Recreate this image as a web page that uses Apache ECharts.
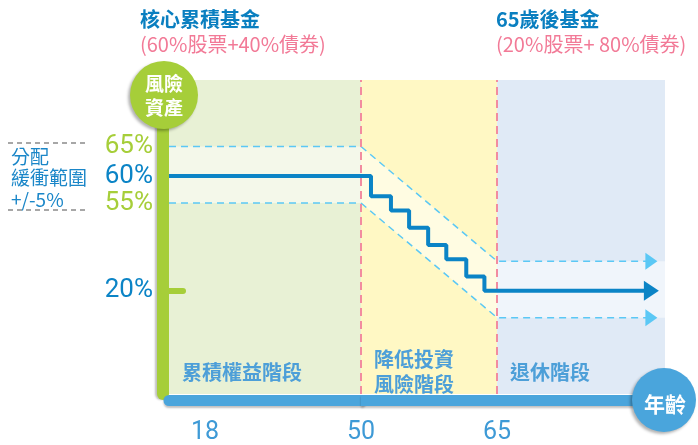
<!DOCTYPE html>
<html>
<head>
<meta charset="utf-8">
<script src="https://cdn.jsdelivr.net/npm/echarts@6/dist/echarts.min.js"></script>
<style>
  html, body { margin: 0; padding: 0; background: #fff; }
  #chart { width: 698px; height: 445px; }
</style>
</head>
<body>
<div id="chart"></div>
<script>
// ---- data ----
var ageTicks = [18, 50, 65];
var stageNames = ['累積權益階段', '降低投資\n風險階段', '退休階段'];
var pathAges = [18, 50, 51.1, 53.3, 55.3, 57.4, 59.4, 61.6, 63.6, 82];
var pathShare = [60, 60, 53, 48, 42, 36, 31, 25, 20, 20];
var bandAges = [18, 50, 65, 82];
var bandUpper = [65, 65, 25, 25];
var bandLower = [55, 55, 15, 15];
var mainTicks = [60, 20];
var upperTicks = [65];
var lowerTicks = [55];

// ---- look ----
var NUM_FONT = 'Roboto, "DejaVu Sans", sans-serif';
var CJK_FONT = '"Noto Sans CJK TC", "Noto Sans CJK SC", sans-serif';
var BLUE = '#0b84c6', GREEN = '#a6ce39', CYAN = '#5bc8f5', PINK = '#f28ca0';
var AXIS_BLUE = '#4aa5dc', STAGE_BLUE = '#4d9fd8', TITLE_BLUE = '#0a7fc0', TITLE_PINK = '#f27a97';
var yMin = -16, yMax = 93.5, upperShift = 5.3, lowerShift = 4.4;
var ageMax = 83.5;

var chart = echarts.init(document.getElementById('chart'));

function pick(xs, ys, lo, hi, arrow) {
  var out = [];
  for (var i = 0; i < xs.length; i++) {
    if (xs[i] >= lo && xs[i] <= hi) out.push([xs[i], ys[i]]);
  }
  if (arrow) {
    var last = out.pop();
    out.push({ value: last, symbol: 'triangle', symbolSize: arrow, symbolRotate: -90 });
  }
  return out;
}

// light strip between the two buffer lines
function bandFill(lo, hi) {
  return function (params, api) {
    var cs = params.coordSys;
    var up = [], dn = [];
    for (var i = 0; i < bandAges.length; i++) {
      if (bandAges[i] < lo || bandAges[i] > hi) continue;
      up.push(api.coord([bandAges[i], bandUpper[i] + upperShift]));
      dn.push(api.coord([bandAges[i], bandLower[i] - lowerShift]));
    }
    var right = cs.x + cs.width;
    if (up[up.length - 1][0] < right) {
      up.push([right, up[up.length - 1][1]]);
      dn.push([right, dn[dn.length - 1][1]]);
    }
    return {
      type: 'polygon',
      shape: { points: up.concat(dn.reverse()) },
      style: { fill: 'rgba(255,255,255,0.5)' }
    };
  };
}

function yAxisSet(grid, show) {
  var base = { gridIndex: grid, type: 'value', position: 'left', offset: 6, splitLine: { show: false } };
  return [
    Object.assign({}, base, {
      min: yMin, max: yMax, show: true, z: 6,
      axisLine: { show: show, onZero: false, lineStyle: { color: GREEN, width: 12, shadowColor: 'rgba(0,0,0,0.25)', shadowBlur: 2, shadowOffsetX: -2 } },
      axisTick: { show: show, inside: true, length: 20, customValues: [20], lineStyle: { color: GREEN, width: 6, cap: 'round' } },
      axisLabel: { show: show, customValues: mainTicks, margin: 10, color: BLUE, fontSize: 26, fontFamily: NUM_FONT, formatter: '{value}%' }
    }),
    Object.assign({}, base, {
      min: yMin - upperShift, max: yMax - upperShift, show: show,
      axisLine: { show: false, onZero: false }, axisTick: { show: false },
      axisLabel: { customValues: upperTicks, margin: 10, color: GREEN, fontSize: 26, fontFamily: NUM_FONT, formatter: '{value}%' }
    }),
    Object.assign({}, base, {
      min: yMin + lowerShift, max: yMax + lowerShift, show: show,
      axisLine: { show: false, onZero: false }, axisTick: { show: false },
      axisLabel: { customValues: lowerTicks, margin: 10, color: GREEN, fontSize: 26, fontFamily: NUM_FONT, formatter: '{value}%' }
    })
  ];
}

var stageLabel = {
  show: true, position: [13, 292], align: 'left', verticalAlign: 'middle',
  color: STAGE_BLUE, fontSize: 20, fontWeight: 'bold', fontFamily: CJK_FONT, lineHeight: 25
};
var barShadow = { color: AXIS_BLUE, width: 11, shadowColor: 'rgba(0,0,0,0.25)', shadowBlur: 2, shadowOffsetY: 2 };
var xLabel = { color: '#3e9ad6', fontSize: 25, fontFamily: NUM_FONT, margin: 20 };

function lineSeries(x, y, data, style, z) {
  return {
    type: 'line', xAxisIndex: x, yAxisIndex: y, data: data, z: z,
    symbol: 'none', showSymbol: true, silent: true, animation: false,
    lineStyle: style, itemStyle: { color: style.color }
  };
}

var option = {
  animation: false,
  title: [
    { text: '核心累積基金', subtext: '(60%股票+40%債券)', left: 140, top: 9, padding: 0, itemGap: 5,
      textStyle: { color: TITLE_BLUE, fontSize: 20, fontWeight: 'bold', fontFamily: CJK_FONT },
      subtextStyle: { color: TITLE_PINK, fontSize: 20, fontFamily: CJK_FONT } },
    { text: '65歲後基金', subtext: '(20%股票+ 80%債券)', left: 496, top: 9, padding: 0, itemGap: 5,
      textStyle: { color: TITLE_BLUE, fontSize: 20, fontWeight: 'bold', fontFamily: CJK_FONT },
      subtextStyle: { color: TITLE_PINK, fontSize: 20, fontFamily: CJK_FONT } }
  ],
  grid: [
    { left: 169, width: 192, top: 80, height: 318 },
    { left: 361, width: 304, top: 80, height: 318 }
  ],
  xAxis: [
    { gridIndex: 0, type: 'value', min: 18, max: 50, offset: 6, z: 7, splitLine: { show: false },
      axisLine: { onZero: false, lineStyle: Object.assign({ cap: 'round' }, barShadow) }, axisTick: { show: false },
      axisLabel: Object.assign({}, xLabel, { customValues: [ageTicks[0]], padding: [0, 0, 0, 72] }) },
    { gridIndex: 1, type: 'value', min: 50, max: ageMax, offset: 6, z: 8, splitLine: { show: false },
      axisLine: { onZero: false, lineStyle: Object.assign({ cap: 'butt' }, barShadow) }, axisTick: { show: false },
      axisLabel: Object.assign({}, xLabel, { customValues: ageTicks.slice(1) }) }
  ],
  yAxis: yAxisSet(0, true).concat(yAxisSet(1, false)),
  series: [
    // stage backgrounds
    { type: 'line', xAxisIndex: 0, yAxisIndex: 0, data: [], z: 1, silent: true,
      markArea: { silent: true, data: [[
        { xAxis: ageTicks[0], name: stageNames[0], itemStyle: { color: '#e8f1d5' }, label: stageLabel },
        { xAxis: ageTicks[1] }
      ]] } },
    { type: 'line', xAxisIndex: 1, yAxisIndex: 3, data: [], z: 1, silent: true,
      markArea: { silent: true, data: [
        [{ xAxis: ageTicks[1], name: stageNames[1], itemStyle: { color: '#fff8c4' }, label: stageLabel }, { xAxis: ageTicks[2] }],
        [{ xAxis: ageTicks[2], name: stageNames[2], itemStyle: { color: '#e0eaf6' }, label: stageLabel }, { xAxis: ageMax }]
      ] } },
    // buffer strip
    { type: 'custom', xAxisIndex: 0, yAxisIndex: 0, z: 2, silent: true, data: [[18, 60]], renderItem: bandFill(18, 50) },
    { type: 'custom', xAxisIndex: 1, yAxisIndex: 3, z: 2, silent: true, data: [[50, 60]], renderItem: bandFill(50, ageMax) },
    // stage boundaries
    { type: 'line', xAxisIndex: 1, yAxisIndex: 3, data: [], z: 3, silent: true,
      markLine: { silent: true, symbol: 'none', label: { show: false },
        lineStyle: { color: PINK, type: [8, 5], width: 2 },
        data: [{ xAxis: ageTicks[1] }, { xAxis: ageTicks[2] }] } },
    // buffer lines
    lineSeries(0, 1, pick(bandAges, bandUpper, 18, 50), { color: CYAN, width: 1.5, type: [7, 5] }, 4),
    lineSeries(0, 2, pick(bandAges, bandLower, 18, 50), { color: CYAN, width: 1.5, type: [7, 5] }, 4),
    lineSeries(1, 4, pick(bandAges, bandUpper, 50, ageMax, [17, 12]), { color: CYAN, width: 1.5, type: [7, 5] }, 4),
    lineSeries(1, 5, pick(bandAges, bandLower, 50, ageMax, [17, 12]), { color: CYAN, width: 1.5, type: [7, 5] }, 4),
    // glide path
    lineSeries(0, 0, pick(pathAges, pathShare, 18, 50), { color: BLUE, width: 4 }, 5),
    Object.assign(lineSeries(1, 3, pick(pathAges, pathShare, 50, ageMax, [20, 15]), { color: BLUE, width: 4 }, 5), { step: 'end' })
  ],
  graphic: [
    { type: 'line', shape: { x1: 8, y1: 143, x2: 88, y2: 143 }, style: { stroke: '#8a8a8a', lineWidth: 1.5, lineDash: [5, 4] } },
    { type: 'line', shape: { x1: 8, y1: 210, x2: 88, y2: 210 }, style: { stroke: '#8a8a8a', lineWidth: 1.5, lineDash: [5, 4] } },
    { type: 'text', x: 11, y: 146, style: { text: '分配\n緩衝範圍\n+/-5%', fill: '#1a86c8', font: '19px ' + CJK_FONT, lineHeight: 21.5 } },
    { type: 'circle', z: 100, shape: { cx: 164, cy: 95, r: 34 },
      style: { fill: GREEN, shadowColor: 'rgba(0,0,0,0.3)', shadowBlur: 3, shadowOffsetX: -2, shadowOffsetY: 2 } },
    { type: 'text', z: 101, x: 164, y: 96, style: { text: '風險\n資產', fill: '#fff', font: 'bold 19px ' + CJK_FONT, align: 'center', verticalAlign: 'middle', lineHeight: 24 } },
    { type: 'circle', z: 100, shape: { cx: 664, cy: 400, r: 32 },
      style: { fill: AXIS_BLUE, shadowColor: 'rgba(0,0,0,0.3)', shadowBlur: 3, shadowOffsetX: -2, shadowOffsetY: 2 } },
    { type: 'text', z: 101, x: 665, y: 404, style: { text: '年齡', fill: '#fff', font: 'bold 21px ' + CJK_FONT, align: 'center', verticalAlign: 'middle' } }
  ]
};

chart.setOption(option);
</script>
</body>
</html>
